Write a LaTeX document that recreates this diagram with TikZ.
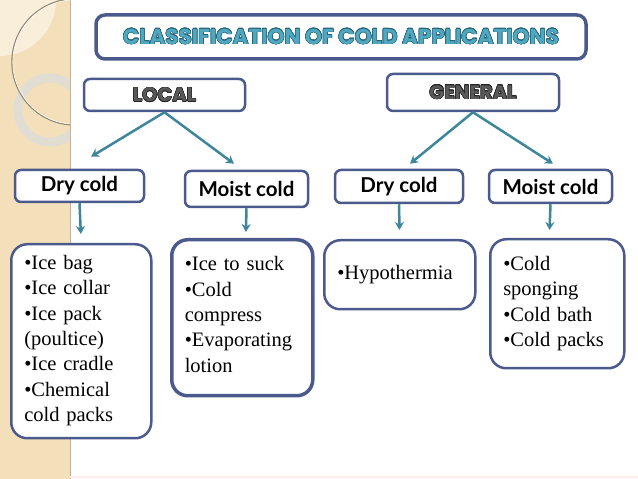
\documentclass[tikz,border=0pt]{standalone}
\usepackage{fontspec}
\usepackage{xcolor}
\usepackage{contour}
\usetikzlibrary{arrows.meta}
\setmainfont{Liberation Serif}
\newfontfamily\titlefont{Poppins}
\newfontfamily\labelfont{Lato}
\definecolor{frame}{RGB}{75,90,140}
\definecolor{arrowc}{RGB}{62,135,155}
\definecolor{titlec}{RGB}{80,168,192}
\definecolor{titleo}{RGB}{38,98,118}
\definecolor{strip}{RGB}{243,224,186}
\definecolor{ring}{RGB}{226,221,210}
\contourlength{0.5pt}
\begin{document}
\begin{tikzpicture}[x=1pt,y=1pt,
box/.style={draw=frame,line width=2.5pt,rounded corners=6pt,fill=white,inner sep=0pt},
head/.style={box,text=black!65,font=\titlefont\bfseries\fontsize{19.5}{22}\selectfont},
cold/.style={box,font=\labelfont\bfseries\fontsize{20.5}{24}\selectfont},
items/.style={box,rounded corners=16pt,anchor=north west,align=left,inner xsep=13pt,inner ysep=0pt,font=\fontsize{20.5}{25.4}\selectfont},
link/.style={arrowc,line width=2.5pt,-{Stealth[length=8pt,width=9pt]}}]
\useasboundingbox(0,0)rectangle(638,479);
\fill[white](0,0)rectangle(638,479);
\fill[strip](0,0)rectangle(70,479);
\fill[strip!55!white](0,479)--(56,479)arc[start angle=0,end angle=-90,radius=56]--cycle;
\begin{scope}
\clip(0,0)rectangle(70,479);
\draw[ring,line width=9pt](50,369)circle[radius=32];
\draw[strip!60!black,line width=1.4pt](75,417)circle[radius=63];
\draw[white,line width=0.6pt](75,417)circle[radius=62.2];
\end{scope}
\draw[strip!80!black,line width=0.8pt](70,0)--(70,479);
\draw[red!8!white,line width=2pt](70,2)--(638,2);
\node[box,line width=3.5pt,rounded corners=9pt,minimum width=490pt,minimum height=44pt,text=titlec,
 font=\titlefont\bfseries\fontsize{21.5}{24}\selectfont](title) at(341,442){\contour{titleo}{CLASSIFICATION OF COLD APPLICATIONS}};
\node[head,minimum width=161pt,minimum height=32pt](local) at(164.5,384){\contour{black!85}{LOCAL}};
\node[head,minimum width=172pt,minimum height=37pt](general) at(473,386.5){\contour{black!85}{GENERAL}};
\node[cold,minimum width=129pt,minimum height=32pt](ldry) at(79.5,293){Dry cold};
\node[cold,minimum width=123pt,minimum height=36pt](lmoist) at(246.5,290){Moist cold};
\node[cold,minimum width=128pt,minimum height=33pt](gdry) at(399,292.5){Dry cold};
\node[cold,minimum width=123pt,minimum height=33pt](gmoist) at(550.5,292.5){Moist cold};
\node[items,text width=114pt,text height=25pt,text depth=169pt](llist) at(10,236)
 {•Ice~bag\\•Ice~collar\\•Ice~pack\\(poultice)\\•Ice~cradle\\•Chemical\\cold~packs};
\node[items,line width=3.5pt,text width=115pt,text height=31pt,text depth=125pt](lmlist) at(170,241)
 {•Ice~to~suck\\•Cold\\compress\\•Evaporating\\lotion};
\node[items,text width=125pt,text height=39pt,text depth=30pt](glist) at(323,240){•Hypothermia};
\node[items,text width=108pt,text height=31pt,text depth=98pt](gmlist) at(489,241)
 {•Cold\\sponging\\•Cold~bath\\•Cold~packs};
\draw[link](local.south)--([shift={(11.5,12)}]ldry.north);
\draw[link](local.south)--([shift={(-12.5,6)}]lmoist.north);
\draw[link](general.south)--([shift={(11,5)}]gdry.north);
\draw[link](general.south)--([shift={(2.5,5)}]gmoist.north);
\draw[link,shorten >=9pt](ldry.south)--(llist.north);
\draw[link,shorten >=6pt](lmoist.south)--([xshift=3.5pt]lmlist.north);
\draw[link,shorten >=9pt](gdry.south)--(glist.north);
\draw[link,shorten >=8pt](gmoist.south)--([xshift=-8pt]gmlist.north);
\end{tikzpicture}
\end{document}
